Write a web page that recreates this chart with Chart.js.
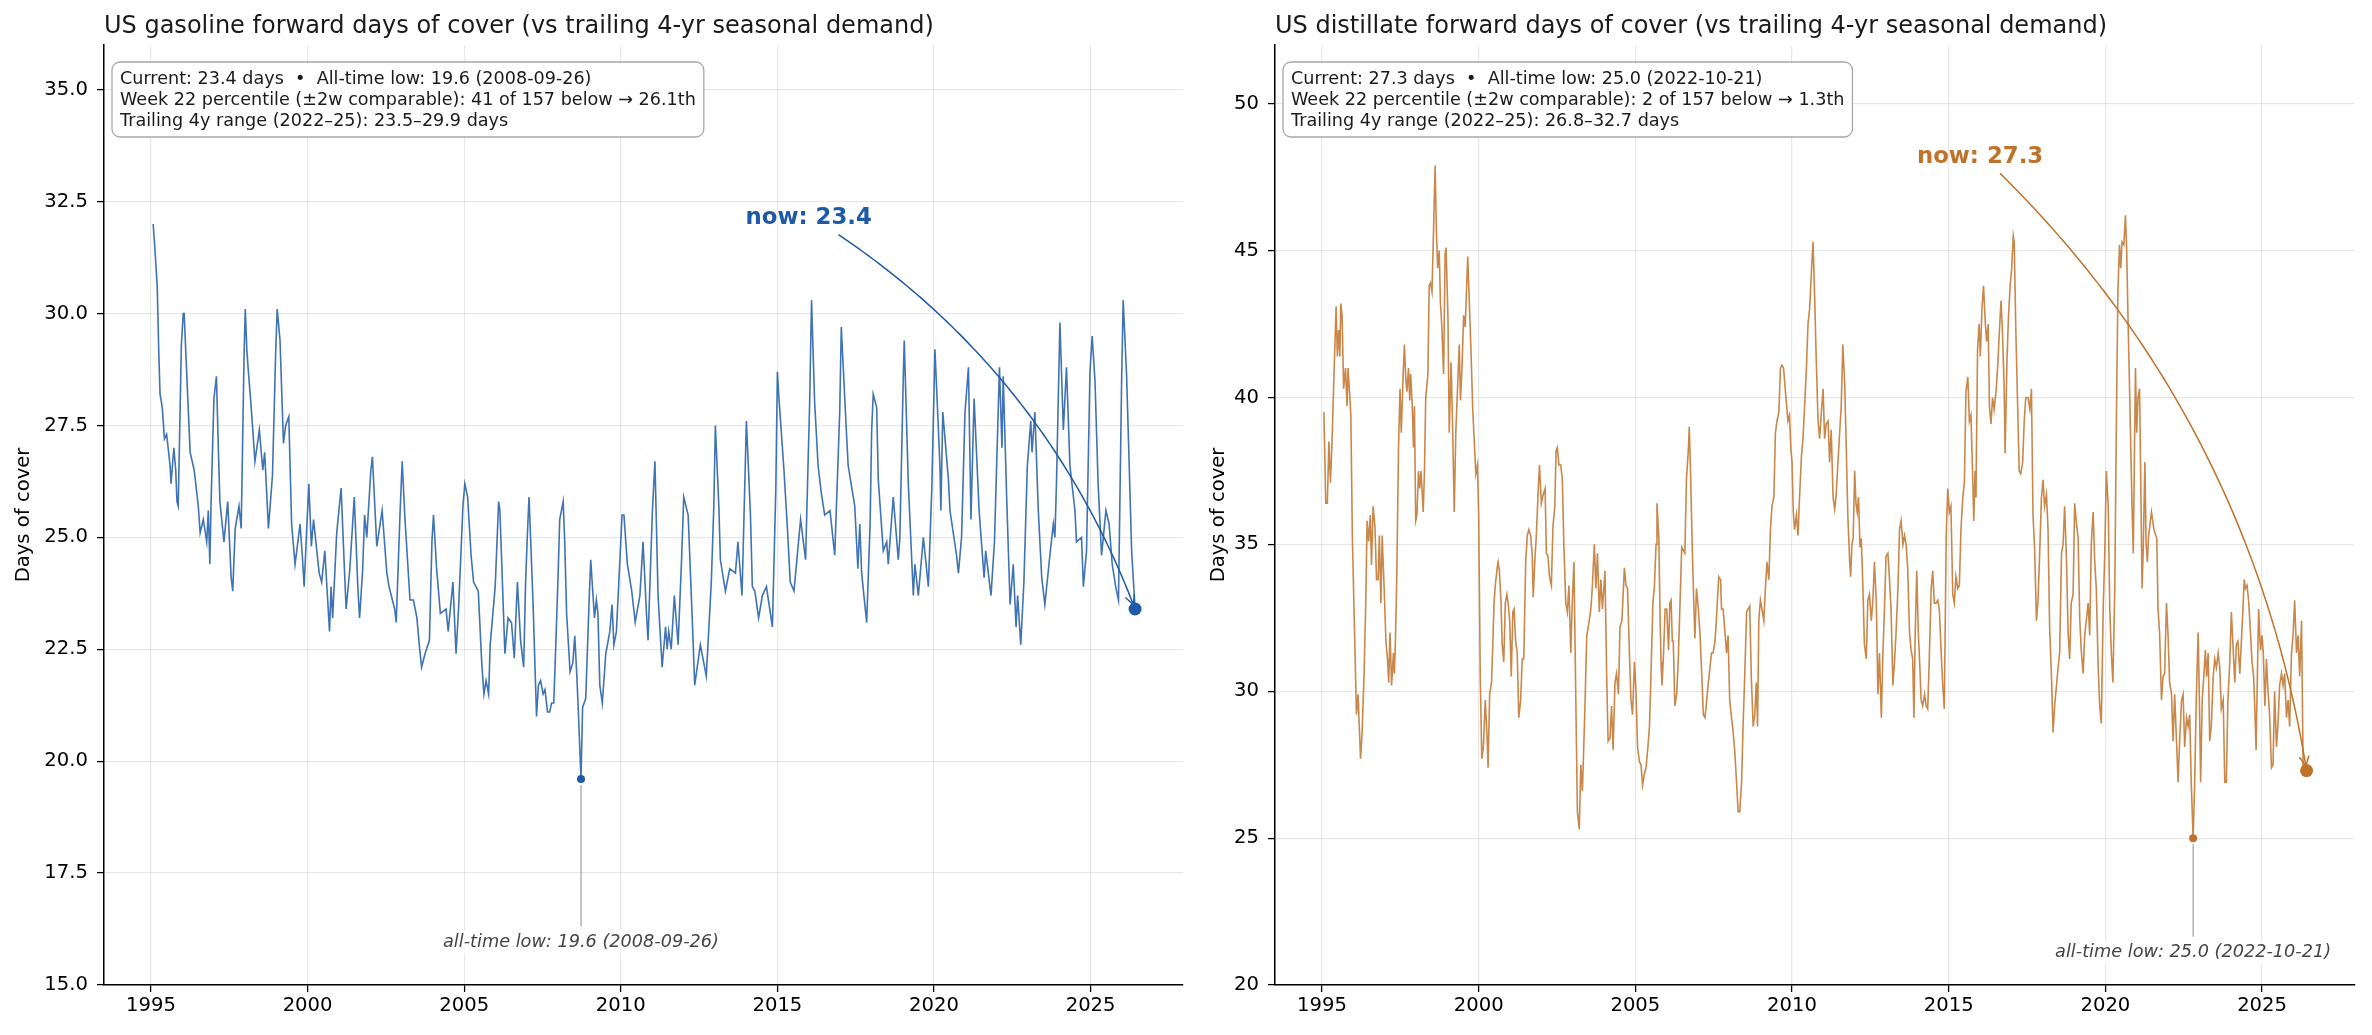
<!DOCTYPE html>
<html>
<head>
<meta charset="utf-8">
<script src="https://cdn.jsdelivr.net/npm/chart.js@4.4.1/dist/chart.umd.min.js"></script>
<style>
  html, body { margin: 0; padding: 0; background: #fff; }
  body { width: 2372px; height: 1035px; position: relative; overflow: hidden; }
  canvas { position: absolute; top: 0; }
  #gasChart { left: 0; }
  #distChart { left: 1171px; }
</style>
</head>
<body>
<canvas id="gasChart" width="1190" height="1035"></canvas>
<canvas id="distChart" width="1190" height="1035"></canvas>
<script>
// weekly days of cover: [decimal year, days]
const gasWeeks = [
  [1995.07,32.0],[1995.12,31.5],[1995.20,30.6],[1995.25,29.1],[1995.29,28.2],[1995.36,27.9],[1995.43,27.2],[1995.50,27.3],[1995.61,26.6],[1995.64,26.2],
  [1995.73,27.0],[1995.79,26.5],[1995.83,25.8],[1995.87,25.7],[1995.97,29.3],[1996.03,30.0],[1996.06,30.0],[1996.12,29.0],[1996.25,26.9],[1996.38,26.5],
  [1996.51,25.7],[1996.57,25.1],[1996.67,25.4],[1996.78,24.9],[1996.83,25.6],[1996.88,24.4],[1996.92,25.8],[1996.97,27.1],[1997.01,28.1],[1997.09,28.6],
  [1997.15,27.0],[1997.20,25.8],[1997.33,24.9],[1997.45,25.8],[1997.56,24.1],[1997.61,23.8],[1997.69,25.2],[1997.81,25.7],[1997.88,25.2],[1997.97,29.0],
  [1998.01,30.1],[1998.06,29.2],[1998.11,28.7],[1998.19,28.0],[1998.32,26.7],[1998.46,27.4],[1998.57,26.5],[1998.63,26.9],[1998.75,25.2],[1998.88,26.4],
  [1998.98,29.1],[1999.03,30.1],[1999.12,29.4],[1999.23,27.1],[1999.30,27.5],[1999.40,27.7],[1999.49,25.3],[1999.60,24.4],[1999.76,25.3],[1999.84,24.5],
  [1999.89,23.9],[1999.98,25.3],[2000.04,26.2],[2000.12,24.8],[2000.19,25.4],[2000.37,24.2],[2000.45,24.0],[2000.55,24.7],[2000.70,22.9],[2000.75,23.9],
  [2000.80,23.2],[2000.93,25.1],[2001.07,26.1],[2001.17,24.4],[2001.23,23.4],[2001.35,24.3],[2001.49,25.9],[2001.61,23.8],[2001.66,23.2],[2001.76,24.3],
  [2001.82,25.5],[2001.89,25.0],[2002.02,26.5],[2002.07,26.8],[2002.21,24.8],[2002.38,25.6],[2002.53,24.2],[2002.60,23.9],[2002.78,23.4],[2002.83,23.1],
  [2002.95,25.5],[2003.02,26.7],[2003.11,25.4],[2003.27,23.6],[2003.38,23.6],[2003.49,23.2],[2003.58,22.5],[2003.64,22.1],[2003.75,22.4],[2003.89,22.7],
  [2003.97,24.9],[2004.02,25.5],[2004.12,24.3],[2004.24,23.3],[2004.42,23.4],[2004.49,22.9],[2004.64,24.0],[2004.74,22.4],[2004.82,23.4],[2004.96,25.7],
  [2005.02,26.2],[2005.11,25.9],[2005.22,24.6],[2005.30,24.0],[2005.45,23.8],[2005.56,22.2],[2005.63,21.5],[2005.70,21.8],[2005.78,21.5],[2005.83,22.6],
  [2005.99,23.9],[2006.10,25.8],[2006.14,25.6],[2006.24,23.6],[2006.30,22.4],[2006.40,23.2],[2006.51,23.1],[2006.60,22.3],[2006.65,23.2],[2006.70,24.0],
  [2006.80,22.7],[2006.90,22.1],[2006.96,24.0],[2007.02,25.1],[2007.07,25.9],[2007.13,24.8],[2007.20,23.5],[2007.27,21.9],[2007.31,21.0],[2007.37,21.7],
  [2007.44,21.8],[2007.52,21.5],[2007.58,21.6],[2007.66,21.1],[2007.73,21.1],[2007.79,21.3],[2007.86,21.3],[2007.93,22.7],[2008.00,24.2],[2008.05,25.4],
  [2008.16,25.8],[2008.21,24.9],[2008.27,23.3],[2008.38,22.0],[2008.47,22.2],[2008.53,22.8],[2008.59,22.0],[2008.64,21.2],[2008.73,19.6],[2008.78,21.2],
  [2008.88,21.4],[2008.99,23.6],[2009.04,24.5],[2009.16,23.2],[2009.22,23.6],[2009.27,23.3],[2009.33,21.7],[2009.41,21.3],[2009.52,22.4],[2009.65,22.9],
  [2009.72,23.5],[2009.78,22.6],[2009.86,22.9],[2009.93,23.9],[2010.04,25.5],[2010.10,25.5],[2010.21,24.4],[2010.35,23.8],[2010.46,23.1],[2010.61,23.7],
  [2010.71,24.9],[2010.82,23.3],[2010.87,22.7],[2011.01,25.6],[2011.09,26.7],[2011.19,23.7],[2011.32,22.1],[2011.43,23.0],[2011.48,22.5],[2011.53,22.9],
  [2011.61,22.5],[2011.71,23.7],[2011.83,22.6],[2011.94,24.5],[2012.01,25.9],[2012.15,25.5],[2012.28,23.2],[2012.36,21.7],[2012.54,22.6],[2012.73,21.9],
  [2012.89,24.0],[2012.97,25.7],[2013.02,27.5],[2013.13,25.7],[2013.18,24.5],[2013.34,23.8],[2013.48,24.3],[2013.66,24.2],[2013.74,24.9],[2013.87,23.7],
  [2014.01,27.6],[2014.14,25.5],[2014.20,23.9],[2014.28,23.8],[2014.40,23.2],[2014.52,23.7],[2014.65,23.9],[2014.84,23.0],[2014.95,26.1],[2015.00,28.7],
  [2015.05,28.1],[2015.21,26.5],[2015.32,25.2],[2015.41,24.0],[2015.53,23.8],[2015.74,25.4],[2015.90,24.5],[2015.97,26.4],[2016.03,28.0],[2016.09,30.3],
  [2016.19,28.0],[2016.30,26.6],[2016.40,26.0],[2016.51,25.5],[2016.68,25.6],[2016.83,24.6],[2016.99,27.8],[2017.04,29.7],[2017.20,27.4],[2017.26,26.6],
  [2017.47,25.7],[2017.57,24.3],[2017.63,25.3],[2017.69,24.2],[2017.85,23.1],[2017.96,25.3],[2018.01,27.4],[2018.06,28.2],[2018.17,27.9],[2018.22,26.3],
  [2018.38,24.7],[2018.49,24.9],[2018.54,24.4],[2018.70,25.9],[2018.86,24.5],[2018.91,25.0],[2019.02,28.6],[2019.05,29.4],[2019.18,26.2],[2019.34,23.7],
  [2019.39,24.4],[2019.50,23.7],[2019.66,25.0],[2019.82,23.9],[2019.93,26.1],[2020.03,29.2],[2020.19,26.6],[2020.22,25.6],[2020.28,27.8],[2020.46,26.3],
  [2020.51,25.6],[2020.72,24.6],[2020.78,24.2],[2020.88,25.0],[2020.99,27.8],[2021.10,28.8],[2021.18,25.4],[2021.28,28.1],[2021.44,25.6],[2021.60,24.1],
  [2021.65,24.7],[2021.82,23.7],[2021.93,24.9],[2022.09,28.8],[2022.17,27.0],[2022.21,28.6],[2022.32,25.9],[2022.43,23.5],[2022.53,24.4],[2022.62,23.0],
  [2022.67,23.7],[2022.77,22.6],[2022.87,24.0],[2022.98,26.6],[2023.09,27.6],[2023.13,26.9],[2023.22,27.8],[2023.33,25.6],[2023.44,24.1],[2023.54,23.5],
  [2023.70,24.6],[2023.81,25.3],[2023.86,25.0],[2023.91,26.2],[2024.02,29.8],[2024.13,27.4],[2024.23,28.8],[2024.34,26.6],[2024.50,25.6],[2024.55,24.9],
  [2024.71,25.0],[2024.77,23.9],[2024.87,24.7],[2024.98,28.7],[2025.05,29.5],[2025.14,28.5],[2025.24,26.2],[2025.35,24.6],[2025.49,25.6],[2025.59,25.3],
  [2025.69,24.4],[2025.80,23.9],[2025.89,23.6],[2025.99,28.5],[2026.04,30.3],[2026.15,28.6],[2026.20,27.4],[2026.31,24.7],[2026.42,23.4]
];

const distWeeks = [
  [1995.06,39.5],[1995.12,36.4],[1995.17,36.4],[1995.22,38.5],[1995.27,37.1],[1995.32,38.5],[1995.38,40.7],[1995.45,43.1],[1995.49,41.4],[1995.53,42.3],
  [1995.57,41.4],[1995.60,43.2],[1995.64,42.8],[1995.69,40.3],[1995.75,41.0],[1995.80,39.7],[1995.83,41.0],[1995.89,40.0],[1995.92,39.4],[1995.97,35.2],
  [1996.03,32.4],[1996.10,29.2],[1996.15,29.9],[1996.23,27.7],[1996.28,28.6],[1996.34,30.5],[1996.39,32.7],[1996.44,35.8],[1996.49,35.1],[1996.54,36.0],
  [1996.58,34.3],[1996.63,36.3],[1996.69,35.6],[1996.74,33.8],[1996.79,33.8],[1996.83,35.3],[1996.88,33.0],[1996.92,35.3],[1996.99,33.3],[1997.04,31.7],
  [1997.09,31.1],[1997.13,30.3],[1997.17,32.0],[1997.22,30.2],[1997.28,31.3],[1997.31,30.6],[1997.35,32.0],[1997.39,34.1],[1997.44,38.2],[1997.49,40.3],
  [1997.53,38.8],[1997.59,40.8],[1997.63,41.8],[1997.67,40.7],[1997.71,40.2],[1997.76,41.0],[1997.80,39.9],[1997.83,40.8],[1997.88,39.7],[1997.92,38.3],
  [1997.95,39.7],[1997.99,35.8],[1998.03,36.0],[1998.08,37.5],[1998.12,36.9],[1998.16,37.5],[1998.23,36.1],[1998.27,37.5],[1998.31,40.0],[1998.38,40.8],
  [1998.42,43.8],[1998.46,43.9],[1998.51,43.6],[1998.56,45.7],[1998.61,47.9],[1998.65,45.7],[1998.69,44.4],[1998.74,45.0],[1998.78,43.2],[1998.82,42.5],
  [1998.88,40.8],[1998.93,44.9],[1998.96,45.1],[1999.02,42.7],[1999.06,38.8],[1999.12,41.2],[1999.16,39.4],[1999.22,36.1],[1999.27,38.8],[1999.34,40.7],
  [1999.38,41.8],[1999.42,39.9],[1999.47,41.1],[1999.52,42.8],[1999.57,42.4],[1999.65,44.8],[1999.70,43.3],[1999.76,41.4],[1999.81,39.6],[1999.86,38.5],
  [1999.91,37.4],[1999.96,37.7],[2000.00,36.0],[2000.05,30.5],[2000.10,27.7],[2000.15,28.1],[2000.21,29.7],[2000.27,28.4],[2000.30,27.4],[2000.35,29.9],
  [2000.41,30.3],[2000.45,31.6],[2000.49,33.0],[2000.53,33.6],[2000.59,34.2],[2000.62,34.4],[2000.66,34.1],[2000.71,33.1],[2000.75,31.6],[2000.80,31.0],
  [2000.85,33.0],[2000.90,33.3],[2000.94,33.0],[2000.99,32.4],[2001.04,30.5],[2001.09,32.7],[2001.13,32.8],[2001.18,31.7],[2001.23,31.3],[2001.28,29.1],
  [2001.34,29.7],[2001.39,31.1],[2001.44,31.1],[2001.50,34.4],[2001.55,35.3],[2001.60,35.5],[2001.66,35.3],[2001.71,34.6],[2001.74,33.2],[2001.79,34.4],
  [2001.84,35.3],[2001.89,36.6],[2001.94,37.7],[2002.00,36.4],[2002.06,36.7],[2002.12,36.9],[2002.16,34.7],[2002.21,34.6],[2002.26,33.9],[2002.32,33.6],
  [2002.37,35.6],[2002.43,36.3],[2002.47,38.2],[2002.51,38.3],[2002.56,37.7],[2002.62,37.7],[2002.67,37.2],[2002.72,34.9],[2002.78,33.0],[2002.83,32.7],
  [2002.88,33.6],[2002.94,31.3],[2002.98,32.8],[2003.04,34.4],[2003.10,29.7],[2003.15,25.9],[2003.21,25.3],[2003.26,27.5],[2003.31,26.6],[2003.39,29.4],
  [2003.45,31.9],[2003.50,32.2],[2003.58,32.8],[2003.63,33.6],[2003.69,35.0],[2003.74,33.5],[2003.79,34.7],[2003.85,32.7],[2003.90,33.8],[2003.95,32.8],
  [2004.03,34.1],[2004.08,30.8],[2004.13,28.3],[2004.19,28.4],[2004.24,29.5],[2004.29,28.0],[2004.35,30.3],[2004.40,30.6],[2004.46,29.9],[2004.51,32.2],
  [2004.57,32.4],[2004.65,34.2],[2004.70,33.6],[2004.75,33.5],[2004.81,31.3],[2004.86,29.7],[2004.91,29.2],[2004.97,31.0],[2005.02,30.0],[2005.07,28.1],
  [2005.13,27.6],[2005.18,27.5],[2005.23,26.8],[2005.29,27.2],[2005.34,27.4],[2005.40,28.1],[2005.45,28.8],[2005.50,30.6],[2005.56,33.0],[2005.61,33.6],
  [2005.66,35.0],[2005.69,36.4],[2005.75,35.2],[2005.79,32.4],[2005.82,31.0],[2005.85,30.2],[2005.90,31.3],[2005.95,32.8],[2006.00,32.8],[2006.06,31.4],
  [2006.10,33.0],[2006.14,33.1],[2006.18,31.7],[2006.21,31.7],[2006.26,29.5],[2006.32,29.9],[2006.37,31.1],[2006.42,32.8],[2006.48,34.9],[2006.53,34.8],
  [2006.58,34.7],[2006.63,37.2],[2006.69,38.2],[2006.72,39.0],[2006.76,37.5],[2006.82,34.7],[2006.87,32.8],[2006.90,31.8],[2006.95,33.5],[2007.01,32.8],
  [2007.06,32.0],[2007.11,30.8],[2007.17,29.2],[2007.22,29.1],[2007.27,29.6],[2007.32,30.2],[2007.38,30.8],[2007.43,31.3],[2007.48,31.3],[2007.54,31.7],
  [2007.59,32.5],[2007.66,33.9],[2007.72,33.8],[2007.75,32.8],[2007.80,32.8],[2007.86,32.0],[2007.91,31.3],[2007.96,31.9],[2008.01,29.7],[2008.07,29.1],
  [2008.12,28.6],[2008.17,28.0],[2008.23,26.9],[2008.28,25.9],[2008.33,25.9],[2008.39,26.9],[2008.44,28.9],[2008.49,30.5],[2008.55,32.7],[2008.60,32.8],
  [2008.65,32.9],[2008.70,30.5],[2008.76,28.8],[2008.81,29.2],[2008.86,30.3],[2008.90,28.8],[2008.94,32.4],[2008.99,33.1],[2009.04,32.8],[2009.10,32.4],
  [2009.15,33.5],[2009.20,34.4],[2009.26,33.8],[2009.31,35.5],[2009.36,36.3],[2009.42,36.6],[2009.47,38.8],[2009.52,39.2],[2009.58,39.5],[2009.63,41.0],
  [2009.68,41.1],[2009.73,41.0],[2009.79,40.2],[2009.83,39.7],[2009.87,39.2],[2009.92,39.4],[2009.96,38.3],[2010.00,37.8],[2010.04,36.1],[2010.08,35.5],
  [2010.14,36.0],[2010.19,35.3],[2010.24,36.6],[2010.30,38.0],[2010.35,38.6],[2010.40,39.7],[2010.46,41.0],[2010.51,42.5],[2010.56,43.0],[2010.62,44.3],
  [2010.67,45.3],[2010.72,43.5],[2010.77,41.4],[2010.83,39.2],[2010.88,38.6],[2010.93,39.4],[2010.99,40.3],[2011.04,38.6],[2011.09,39.1],[2011.15,39.2],
  [2011.20,37.8],[2011.25,38.9],[2011.31,36.6],[2011.36,36.2],[2011.41,36.7],[2011.46,37.7],[2011.52,38.8],[2011.57,39.7],[2011.62,41.8],[2011.68,40.5],
  [2011.73,38.3],[2011.78,36.0],[2011.84,34.4],[2011.87,33.9],[2011.91,35.0],[2011.95,35.2],[2012.00,37.5],[2012.04,36.4],[2012.08,36.1],[2012.12,36.6],
  [2012.17,34.9],[2012.21,35.2],[2012.26,33.6],[2012.31,31.6],[2012.37,31.1],[2012.42,33.1],[2012.47,33.3],[2012.53,32.4],[2012.58,33.1],[2012.63,34.4],
  [2012.69,33.0],[2012.74,29.9],[2012.79,31.3],[2012.85,29.1],[2012.90,31.3],[2012.95,32.8],[2013.00,34.6],[2013.06,34.7],[2013.11,33.8],[2013.16,32.8],
  [2013.22,30.2],[2013.27,31.0],[2013.32,32.0],[2013.38,33.5],[2013.43,35.5],[2013.48,35.8],[2013.54,35.0],[2013.59,35.3],[2013.64,35.0],[2013.69,34.2],
  [2013.75,32.0],[2013.80,31.4],[2013.85,31.1],[2013.89,29.1],[2013.93,31.9],[2013.98,34.1],[2014.03,32.0],[2014.08,30.8],[2014.12,29.7],[2014.17,29.5],
  [2014.23,29.9],[2014.28,29.5],[2014.33,29.4],[2014.38,31.1],[2014.44,33.5],[2014.49,34.1],[2014.54,33.0],[2014.60,33.0],[2014.65,33.1],[2014.70,32.8],
  [2014.76,31.3],[2014.81,30.2],[2014.86,29.4],[2014.92,35.3],[2014.97,36.9],[2015.02,36.1],[2015.07,36.3],[2015.13,33.3],[2015.18,33.0],[2015.23,33.9],
  [2015.29,33.5],[2015.34,33.6],[2015.39,35.5],[2015.45,36.6],[2015.50,37.1],[2015.55,40.2],[2015.61,40.7],[2015.66,39.2],[2015.71,39.4],[2015.76,37.5],
  [2015.80,35.8],[2015.84,37.5],[2015.87,36.6],[2015.92,41.6],[2015.97,42.5],[2016.01,41.4],[2016.06,43.0],[2016.11,43.8],[2016.17,42.5],[2016.21,41.9],
  [2016.26,42.5],[2016.30,39.7],[2016.35,39.1],[2016.40,40.0],[2016.45,39.6],[2016.51,40.2],[2016.56,41.0],[2016.61,42.1],[2016.67,43.3],[2016.72,42.1],
  [2016.77,40.3],[2016.80,38.1],[2016.86,41.3],[2016.91,42.8],[2016.96,43.8],[2017.01,44.4],[2017.06,45.5],[2017.09,45.3],[2017.14,42.4],[2017.20,39.7],
  [2017.25,37.5],[2017.30,37.4],[2017.36,37.8],[2017.41,39.2],[2017.46,40.0],[2017.53,40.0],[2017.59,39.6],[2017.64,40.3],[2017.69,36.0],[2017.74,34.9],
  [2017.80,32.4],[2017.85,33.1],[2017.90,34.6],[2017.96,36.6],[2018.01,37.2],[2018.06,36.3],[2018.12,36.7],[2018.17,35.5],[2018.22,32.2],[2018.28,30.5],
  [2018.33,28.6],[2018.38,29.5],[2018.44,30.2],[2018.49,30.8],[2018.54,31.3],[2018.60,34.7],[2018.65,35.0],[2018.70,36.3],[2018.76,34.4],[2018.81,32.0],
  [2018.86,31.1],[2018.91,33.0],[2018.97,33.3],[2019.02,36.4],[2019.07,35.8],[2019.13,35.2],[2019.18,32.5],[2019.23,31.4],[2019.29,30.6],[2019.34,31.9],
  [2019.39,32.4],[2019.45,33.0],[2019.50,31.9],[2019.55,35.0],[2019.61,36.1],[2019.66,34.4],[2019.71,33.5],[2019.77,30.8],[2019.82,29.5],[2019.87,28.9],
  [2019.93,32.8],[2019.98,34.7],[2020.03,37.5],[2020.09,36.3],[2020.14,32.8],[2020.19,31.3],[2020.24,30.3],[2020.30,33.5],[2020.35,39.1],[2020.40,43.6],
  [2020.45,45.2],[2020.49,44.4],[2020.53,45.3],[2020.59,45.2],[2020.64,46.2],[2020.68,45.0],[2020.72,42.8],[2020.78,39.9],[2020.81,38.3],[2020.85,36.3],
  [2020.89,34.7],[2020.93,38.3],[2020.96,41.0],[2021.00,38.8],[2021.04,40.0],[2021.09,40.3],[2021.13,37.1],[2021.17,33.5],[2021.21,34.9],[2021.26,37.8],
  [2021.30,35.0],[2021.34,34.4],[2021.38,35.3],[2021.47,36.1],[2021.55,35.5],[2021.64,35.2],[2021.68,32.8],[2021.73,32.0],[2021.79,29.7],[2021.84,30.5],
  [2021.89,30.6],[2021.95,33.0],[2022.00,31.9],[2022.05,30.3],[2022.11,29.9],[2022.16,28.3],[2022.21,29.9],[2022.27,28.3],[2022.32,26.9],[2022.37,28.3],
  [2022.43,29.7],[2022.48,29.9],[2022.53,28.1],[2022.59,29.1],[2022.64,28.8],[2022.69,29.2],[2022.74,26.9],[2022.80,25.0],[2022.85,26.9],[2022.90,29.7],
  [2022.96,32.0],[2023.00,29.7],[2023.04,26.9],[2023.09,29.7],[2023.14,30.5],[2023.19,31.4],[2023.23,30.5],[2023.28,31.3],[2023.33,28.3],[2023.38,28.8],
  [2023.44,30.5],[2023.49,31.1],[2023.54,30.8],[2023.60,31.3],[2023.65,30.8],[2023.70,29.4],[2023.76,29.7],[2023.81,26.9],[2023.86,26.9],[2023.91,29.7],
  [2023.97,31.0],[2024.02,32.7],[2024.07,31.6],[2024.13,30.3],[2024.18,31.6],[2024.23,31.7],[2024.29,30.6],[2024.34,31.7],[2024.39,32.8],[2024.43,33.8],
  [2024.47,33.5],[2024.52,33.6],[2024.57,33.1],[2024.63,32.0],[2024.68,31.0],[2024.73,30.5],[2024.77,29.4],[2024.81,28.0],[2024.85,30.5],[2024.89,32.8],
  [2024.95,31.4],[2025.00,31.9],[2025.04,31.3],[2025.09,29.5],[2025.14,31.1],[2025.19,30.0],[2025.24,29.2],[2025.30,27.4],[2025.35,27.5],[2025.40,30.0],
  [2025.46,28.1],[2025.51,28.9],[2025.56,30.2],[2025.62,30.6],[2025.67,30.2],[2025.72,30.6],[2025.78,29.1],[2025.83,29.7],[2025.88,28.8],[2025.94,31.3],
  [2025.99,31.9],[2026.04,33.1],[2026.10,31.3],[2026.15,31.9],[2026.20,30.5],[2026.26,32.4],[2026.31,27.4],[2026.42,27.3]
];

// highlighted points [year, days]
const gasNow = [2026.42, 23.4];
const gasLow = [2008.73, 19.6];
const distNow = [2026.42, 27.3];
const distLow = [2022.80, 25.0];

// axis ticks
const yearTicks = [1995, 2000, 2005, 2010, 2015, 2020, 2025];
const gasTicks = [15, 17.5, 20, 22.5, 25, 27.5, 30, 32.5, 35];
const distTicks = [20, 25, 30, 35, 40, 45, 50];

const gasBoxLines = [
  "Current: 23.4 days  \u2022  All-time low: 19.6 (2008-09-26)",
  "Week 22 percentile (\u00b12w comparable): 41 of 157 below \u2192 26.1th",
  "Trailing 4y range (2022\u201325): 23.5\u201329.9 days"
];
const distBoxLines = [
  "Current: 27.3 days  \u2022  All-time low: 25.0 (2022-10-21)",
  "Week 22 percentile (\u00b12w comparable): 2 of 157 below \u2192 1.3th",
  "Trailing 4y range (2022\u201325): 26.8\u201332.7 days"
];

const FONT = '"DejaVu Sans", "Liberation Sans", sans-serif';

// Curved "->" arrow from a text label to a point (like matplotlib arc3)
function drawCurvedArrow(ctx, p0, p2, box, color) {
    const dx = p2.x - p0.x, dy = p2.y - p0.y;
    const c = { x: (p0.x + p2.x) / 2 + 0.17 * dy, y: (p0.y + p2.y) / 2 - 0.17 * dx };
    const at = (t) => ({
        x: (1 - t) * (1 - t) * p0.x + 2 * (1 - t) * t * c.x + t * t * p2.x,
        y: (1 - t) * (1 - t) * p0.y + 2 * (1 - t) * t * c.y + t * t * p2.y
    });
    let t0 = 0;
    while (t0 < 1) {
        const q = at(t0);
        if (q.x < box.l || q.x > box.r || q.y < box.t || q.y > box.b) break;
        t0 += 0.002;
    }
    let t1 = 1;
    while (t1 > t0) {
        const q = at(t1);
        if (Math.hypot(q.x - p2.x, q.y - p2.y) > 4) break;
        t1 -= 0.001;
    }
    ctx.strokeStyle = color;
    ctx.lineWidth = 1.5;
    ctx.beginPath();
    const s = at(t0);
    ctx.moveTo(s.x, s.y);
    for (let i = 1; i <= 80; i++) {
        const q = at(t0 + (t1 - t0) * i / 80);
        ctx.lineTo(q.x, q.y);
    }
    ctx.stroke();
    // open arrow head
    const tip = at(t1), back = at(t1 - 0.02);
    const ang = Math.atan2(tip.y - back.y, tip.x - back.x);
    const hl = 11, spread = 0.45;
    ctx.beginPath();
    ctx.moveTo(tip.x - hl * Math.cos(ang - spread), tip.y - hl * Math.sin(ang - spread));
    ctx.lineTo(tip.x, tip.y);
    ctx.lineTo(tip.x - hl * Math.cos(ang + spread), tip.y - hl * Math.sin(ang + spread));
    ctx.stroke();
}

const panelNotes = {
    id: "panelNotes",
    afterDatasetsDraw(chart, args, o) {
        const { ctx, chartArea: area, scales: { x, y } } = chart;
        const px = (pt) => ({ x: x.getPixelForValue(pt[0]), y: y.getPixelForValue(pt[1]) });
        ctx.save();

        // Title, left-aligned with the axes
        ctx.font = "24px " + FONT;
        ctx.fillStyle = "#1a1a1a";
        ctx.textAlign = "left";
        ctx.textBaseline = "alphabetic";
        ctx.fillText(o.title, area.left, 33);

        // All-time low: grey leader + italic label
        const low = px(o.lowAt);
        const lowTextY = y.getPixelForValue(o.lowTextY);
        ctx.font = "italic 17.7px " + FONT;
        const lw = ctx.measureText(o.lowLabel).width;
        ctx.strokeStyle = "#8c8c8c";
        ctx.lineWidth = 1;
        ctx.beginPath();
        ctx.moveTo(low.x, low.y + 6);
        ctx.lineTo(low.x, lowTextY - 16);
        ctx.stroke();
        ctx.fillStyle = "rgba(255,255,255,0.85)";
        ctx.fillRect(low.x - lw / 2 - 4, lowTextY - 12, lw + 8, 24);
        ctx.fillStyle = "#444";
        ctx.textAlign = "center";
        ctx.textBaseline = "middle";
        ctx.fillText(o.lowLabel, low.x, lowTextY);

        // "now" label (baseline at labelAt) with curved arrow to latest point
        const base = px(o.labelAt);
        const lbl = { x: base.x, y: base.y - 8.5 };
        ctx.font = "bold 22.8px " + FONT;
        const nw = ctx.measureText(o.nowLabel).width;
        const box = { l: lbl.x - nw / 2 - 6, r: lbl.x + nw / 2 + 6, t: lbl.y - 19, b: lbl.y + 19 };
        drawCurvedArrow(ctx, lbl, px(o.nowAt), box, o.color);
        ctx.fillStyle = o.color;
        ctx.textAlign = "center";
        ctx.textBaseline = "alphabetic";
        ctx.fillText(o.nowLabel, base.x, base.y);

        // Stats box
        ctx.font = "17.6px " + FONT;
        const bw = Math.max(...o.boxLines.map((s) => ctx.measureText(s).width)) + 16;
        const bx = area.left + 8, by = area.top + 17, bh = 75;
        ctx.beginPath();
        ctx.roundRect(bx, by, bw, bh, 8);
        ctx.fillStyle = "rgba(255,255,255,0.9)";
        ctx.fill();
        ctx.strokeStyle = "#a8a8a8";
        ctx.lineWidth = 1.3;
        ctx.stroke();
        ctx.fillStyle = "#1a1a1a";
        ctx.textAlign = "left";
        ctx.textBaseline = "middle";
        o.boxLines.forEach((s, i) => ctx.fillText(s, bx + 8, by + 17.5 + i * 20.8));

        ctx.restore();
    }
};

function makePanel(canvasId, cfg) {
    const ctx = document.getElementById(canvasId).getContext("2d");
    const tickFont = { family: FONT, size: 19.6 };
    return new Chart(ctx, {
        type: "scatter",
        data: {
            datasets: [
                {
                    data: cfg.series.map((p) => ({ x: p[0], y: p[1] })),
                    showLine: true,
                    borderColor: cfg.lineColor,
                    borderWidth: 1.6,
                    pointRadius: 0,
                    tension: 0,
                    order: 3
                },
                {
                    data: [{ x: cfg.low[0], y: cfg.low[1] }],
                    pointRadius: 4,
                    pointBackgroundColor: cfg.color,
                    pointBorderWidth: 0,
                    order: 2
                },
                {
                    data: [{ x: cfg.now[0], y: cfg.now[1] }],
                    pointRadius: 6.5,
                    pointBackgroundColor: cfg.color,
                    pointBorderWidth: 0,
                    order: 1
                }
            ]
        },
        options: {
            responsive: false,
            animation: false,
            devicePixelRatio: 1,
            layout: { padding: { left: 0, top: 45, right: cfg.padRight, bottom: 0 } },
            plugins: {
                legend: { display: false },
                tooltip: { enabled: false },
                panelNotes: cfg.notes
            },
            scales: {
                x: {
                    type: "linear",
                    min: 1993.5,
                    max: 2027.95,
                    afterBuildTicks: (s) => { s.ticks = yearTicks.map((v) => ({ value: v })); },
                    afterFit: (s) => { s.height = 50; },
                    ticks: { font: tickFont, color: "#000", padding: 2, maxRotation: 0, autoSkip: false,
                             callback: (v) => String(v) },
                    grid: { color: "rgba(0,0,0,0.09)", lineWidth: 1.2, tickColor: "#000", tickLength: 7, tickWidth: 1.3 },
                    border: { color: "#000", width: 1.5 }
                },
                y: {
                    min: cfg.yMin,
                    max: cfg.yMax,
                    afterBuildTicks: (s) => { s.ticks = cfg.yTicks.map((v) => ({ value: v })); },
                    afterFit: (s) => { s.width = 104; },
                    ticks: { font: tickFont, color: "#000", padding: 9, callback: cfg.yFormat },
                    grid: { color: "rgba(0,0,0,0.09)", lineWidth: 1.2, tickColor: "#000", tickLength: 7, tickWidth: 1.3 },
                    border: { color: "#000", width: 1.5 },
                    title: { display: true, text: "Days of cover", font: tickFont, color: "#000",
                             padding: { top: cfg.titlePad, bottom: 0 } }
                }
            }
        },
        plugins: [panelNotes]
    });
}

document.addEventListener("DOMContentLoaded", () => {
    makePanel("gasChart", {
        series: gasWeeks, now: gasNow, low: gasLow,
        lineColor: "rgba(31,90,166,0.85)", color: "#1f5aa6",
        yMin: 15, yMax: 36, yTicks: gasTicks, yFormat: (v) => v.toFixed(1), padRight: 7, titlePad: 12,
        notes: {
            title: "US gasoline forward days of cover (vs trailing 4-yr seasonal demand)",
            boxLines: gasBoxLines, color: "#1f5aa6",
            nowLabel: "now: 23.4", nowAt: gasNow, labelAt: [2016.0, 32.0],
            lowLabel: "all-time low: 19.6 (2008-09-26)", lowAt: gasLow, lowTextY: 15.95
        }
    });
    makePanel("distChart", {
        series: distWeeks, now: distNow, low: distLow,
        lineColor: "rgba(192,114,42,0.85)", color: "#c0722a",
        yMin: 20, yMax: 52, yTicks: distTicks, yFormat: (v) => String(v), padRight: 6, titlePad: 36,
        notes: {
            title: "US distillate forward days of cover (vs trailing 4-yr seasonal demand)",
            boxLines: distBoxLines, color: "#c0722a",
            nowLabel: "now: 27.3", nowAt: distNow, labelAt: [2016.0, 48.0],
            lowLabel: "all-time low: 25.0 (2022-10-21)", lowAt: distLow, lowTextY: 21.1
        }
    });
});
</script>
</body>
</html>
